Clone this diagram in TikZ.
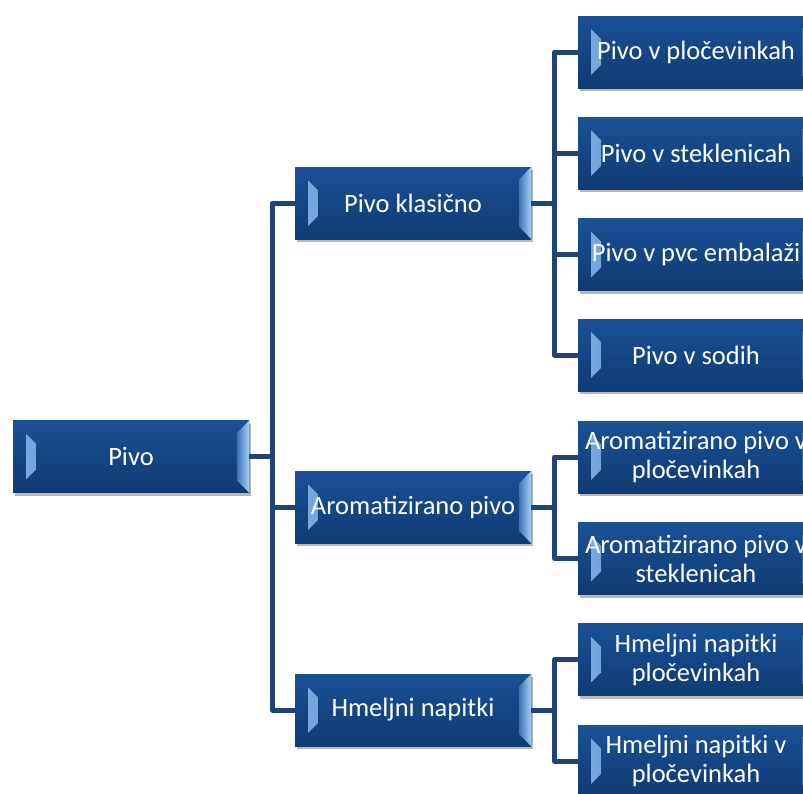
\documentclass[tikz,border=0pt]{standalone}
\usepackage{fontspec}
\setmainfont{Carlito}
\usetikzlibrary{shadows}
\definecolor{boxtop}{HTML}{1A5196}
\definecolor{boxbot}{HTML}{0F3B72}
\definecolor{bevlight}{HTML}{A4D0F6}
\definecolor{bevmid}{HTML}{3C73B6}
\definecolor{bevleftA}{HTML}{79ACE3}
\definecolor{bevleftB}{HTML}{2F66A8}
\definecolor{connc}{HTML}{1F4475}
\tikzset{
  box/.style={rectangle, minimum width=236pt, minimum height=72pt,
    inner sep=0pt, outer sep=0pt, top color=boxtop, bottom color=boxbot,
    text=white, align=center, font=\fontsize{26.5}{29}\selectfont,
    drop shadow={shadow xshift=2pt, shadow yshift=-3pt, opacity=0.28, fill=black},
    path picture={
      \fill[left color=bevleftA, right color=bevleftB]
        ([xshift=13pt,yshift=-13pt]path picture bounding box.north west) --
        ([xshift=13pt,yshift=13pt]path picture bounding box.south west) --
        ([xshift=23pt,yshift=23pt]path picture bounding box.south west) --
        ([xshift=23pt,yshift=-23pt]path picture bounding box.north west) -- cycle;
      \fill[left color=bevmid, right color=bevlight]
        (path picture bounding box.north east) --
        (path picture bounding box.south east) --
        ([xshift=-12pt,yshift=12pt]path picture bounding box.south east) --
        ([xshift=-12pt,yshift=-12pt]path picture bounding box.north east) -- cycle;
    }},
  connector/.style={draw=connc, line width=5pt, line join=round}
}
\begin{document}
\begin{tikzpicture}[x=1pt, y=-1pt]
\useasboundingbox (0,0) rectangle (803,793);
\clip (0,0) rectangle (803,793);
\node[box] (pivo) at (131,456.5) {Pivo};
\node[box] (klas) at (413,203) {Pivo klasično};
\node[box] (arom) at (413,507) {Aromatizirano pivo};
\node[box] (hmel) at (413,710) {Hmeljni napitki};
\node[box] (k1) at (696,52) {Pivo v pločevinkah};
\node[box] (k2) at (696,153) {Pivo v steklenicah};
\node[box] (k3) at (696,254.5) {Pivo v pvc embalaži};
\node[box] (k4) at (696,355) {Pivo v sodih};
\node[box] (a1) at (696,457) {Aromatizirano pivo v\\pločevinkah};
\node[box] (a2) at (696,558.5) {Aromatizirano pivo v\\steklenicah};
\node[box] (h1) at (696,659.5) {Hmeljni napitki\\pločevinkah};
\node[box] (h2) at (696,761) {Hmeljni napitki v\\pločevinkah};
\foreach \c in {klas,arom,hmel}
  \draw[connector] (pivo.east) -- ++(23.5,0) |- (\c.west);
\foreach \c in {k1,k2,k3,k4}
  \draw[connector] (klas.east) -- ++(23.5,0) |- (\c.west);
\foreach \c in {a1,a2}
  \draw[connector] (arom.east) -- ++(23.5,0) |- (\c.west);
\foreach \c in {h1,h2}
  \draw[connector] (hmel.east) -- ++(23.5,0) |- (\c.west);
\end{tikzpicture}
\end{document}
